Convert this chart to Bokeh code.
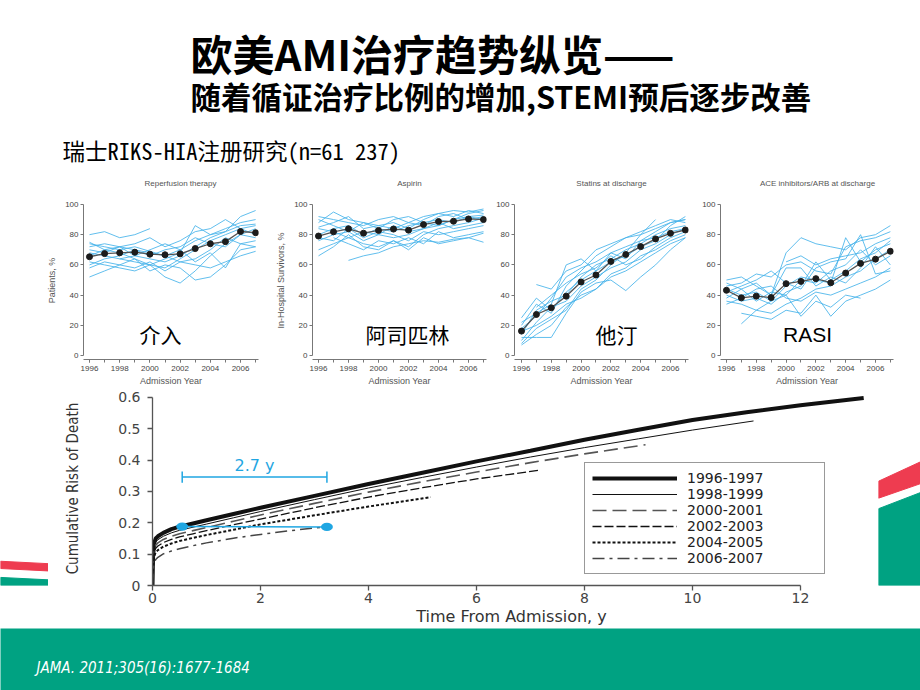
import math
from bokeh.plotting import figure
from bokeh.layouts import column, row
from bokeh.models import Range1d, FixedTicker, NumeralTickFormatter, Legend, LegendItem
from bokeh.core.properties import value
from bokeh.embed import file_html
from bokeh.resources import INLINE

nan = float("nan")

# ---------------- data ----------------
years = [1996, 1997, 1998, 1999, 2000, 2001, 2002, 2003, 2004, 2005, 2006, 2007]
year_ticks = [1996, 1998, 2000, 2002, 2004, 2006]
pct_ticks = [0, 20, 40, 60, 80, 100]
panel_titles = ["Reperfusion therapy", "Aspirin", "Statins at discharge", "ACE inhibitors/ARB at discharge"]

reperf_mean = [65.4, 67.5, 68.0, 68.4, 67.1, 66.7, 67.3, 70.8, 74.0, 75.4, 82.1, 81.3]
aspirin_mean = [79.1, 81.9, 83.9, 81.0, 82.8, 83.7, 83.0, 86.7, 88.7, 88.9, 90.4, 90.0]
statin_mean = [16.2, 27.2, 31.6, 39.3, 48.7, 53.3, 62.3, 66.9, 72.1, 77.2, 80.9, 83.1]
acei_mean = [43.2, 38.2, 39.3, 38.4, 47.6, 49.1, 50.9, 48.2, 54.6, 61.0, 63.8, 69.0]

reperf_hosp = [
    [80, 82, 78, 80, 84, nan, nan, nan, nan, nan, nan, nan],
    [74, 72, 70, 72, 69, 66, 70, 76, 80, 84, 88, 90],
    [70, 68, 72, 66, 64, 62, 66, 72, 78, 82, 86, 87],
    [68, 66, 64, 62, 60, 58, 64, 70, 76, 80, 84, 86],
    [62, 60, 58, 56, 60, 52, 48, 56, 66, 74, 80, 84],
    [58, 62, 60, 64, 56, 60, 58, 50, 52, 60, 70, 72],
    [52, 56, 60, 58, 62, 56, 62, 60, 58, 62, 66, 69],
    [72, 74, 72, 70, 66, 70, 72, 78, 74, 72, 80, 78],
    [66, 70, 68, 64, 60, 64, 68, 86, 80, 82, 92, 96],
    [60, 64, 66, 70, 68, 66, 62, 64, 70, 78, 74, 76],
    [75, 70, 72, 74, 78, 72, 76, 82, 84, 90, 84, 80],
    [nan, nan, 64, 66, 70, 74, 70, 62, 68, 58, 74, 72],
]
aspirin_hosp = [
    [92, 90, 88, 86, 90, 92, 88, 92, 94, 96, 95, 97],
    [85, 88, 92, 84, 86, 88, 84, 90, 94, 92, 96, 94],
    [80, 84, 86, 80, 84, 82, 86, 88, 90, 88, 92, 93],
    [76, 80, 82, 76, 80, 78, 80, 84, 86, 90, 92, 90],
    [70, 74, 78, 74, 72, 76, 72, 80, 84, 86, 88, 91],
    [66, 72, 80, 72, 70, 76, 70, 78, 74, 76, 78, 75],
    [nan, nan, 63, 66, 68, 72, 74, 76, 75, 77, 78, 81],
    [84, 82, 78, 82, 80, 86, 82, 84, 88, 84, 86, 88],
    [88, 95, 90, 88, 86, 84, 88, 86, 92, 94, 90, 92],
    [78, 76, 84, 78, 82, 80, 76, 82, 80, 82, 84, 86],
    [90, 86, 82, 88, 84, 90, 92, 88, 86, 90, 94, 96],
    [nan, 78, 74, 70, 76, 74, 78, 74, 82, 78, 80, 82],
]
statin_hosp = [
    [25, 38, 30, 42, 50, 56, 68, 64, 76, 82, 88, 90],
    [20, 34, 28, 46, 56, 66, 72, 78, 82, 86, 90, 88],
    [14, 30, 36, 40, 52, 60, 64, 70, 74, 80, 84, 86],
    [10, 22, 32, 36, 46, 52, 58, 62, 70, 74, 80, 84],
    [7, 14, 20, 32, 40, 44, 54, 58, 66, 70, 76, 80],
    [12, 12, 12, 28, 42, 48, 50, 43, 52, 60, 70, 78],
    [18, 26, 38, 52, 58, 62, 68, 72, 76, 78, 82, 84],
    [nan, 47, 44, 56, 60, 70, 74, 78, 80, 90, nan, nan],
    [16, 20, 26, 34, 38, 44, 52, 56, 62, 68, 74, 78],
    [22, 28, 34, 60, 64, 56, 62, 66, 72, 76, 86, 92],
    [8, 18, 24, 30, 44, 50, 60, 68, 80, 84, 88, 90],
    [nan, 32, 40, 48, 54, 58, 66, 60, 64, 72, 78, 82],
]
acei_hosp = [
    [50, 52, 46, 40, 68, 78, 74, 72, 70, 78, 80, 86],
    [46, 48, 54, 52, 60, 62, 56, 54, 72, 76, 78, 82],
    [44, 40, 42, 36, 46, 52, 50, 48, 78, 62, 70, 74],
    [40, 36, 38, 34, 42, 46, 62, 50, 56, 64, 68, 76],
    [38, 44, 36, 42, 40, 50, 48, 56, 60, 70, 60, 66],
    [36, 34, 30, 28, 34, 38, 44, 46, 52, 56, 64, 70],
    [nan, 28, 26, 24, 30, 28, 40, 26, 36, 40, 44, 50],
    [nan, 21, 30, 36, 40, 26, 36, 32, 40, 38, nan, nan],
    [42, 46, 50, 56, 48, 44, 58, 62, 64, 80, 54, 56],
    [48, 44, 48, 40, 58, 58, 46, 52, 48, 58, 72, 60],
    [nan, nan, nan, nan, 62, 66, 60, 64, 66, 68, 74, 78],
    [34, 38, 44, 46, 38, 36, 42, 40, 44, 48, 52, 58],
]

# cumulative risk of death curves
t_9697 = [0, 0.01, 0.03, 0.06, 0.1, 0.2, 0.35, 0.5, 0.75, 1, 1.5, 2, 3, 4, 5, 6, 7, 8, 9, 10, 11, 12, 13.17]
r_9697 = [0, 0.09, 0.135, 0.15, 0.157, 0.168, 0.18, 0.188, 0.198, 0.208, 0.228, 0.248, 0.286, 0.324, 0.36, 0.396, 0.43, 0.465, 0.497, 0.528, 0.553, 0.575, 0.598]
t_9899 = [0, 0.01, 0.03, 0.06, 0.1, 0.2, 0.35, 0.5, 0.75, 1, 1.5, 2, 3, 4, 5, 6, 7, 8, 9, 10, 11.13]
r_9899 = [0, 0.08, 0.125, 0.139, 0.146, 0.157, 0.168, 0.176, 0.186, 0.196, 0.216, 0.236, 0.274, 0.311, 0.345, 0.378, 0.41, 0.44, 0.468, 0.496, 0.525]
t_0001 = [0, 0.01, 0.03, 0.06, 0.1, 0.2, 0.35, 0.5, 0.75, 1, 1.5, 2, 3, 4, 5, 6, 7, 8, 9.13]
r_0001 = [0, 0.07, 0.115, 0.129, 0.136, 0.147, 0.157, 0.165, 0.175, 0.185, 0.205, 0.225, 0.262, 0.298, 0.331, 0.362, 0.392, 0.42, 0.449]
t_0203 = [0, 0.01, 0.03, 0.06, 0.1, 0.2, 0.35, 0.5, 0.75, 1, 1.5, 2, 3, 4, 5, 6, 7.18]
r_0203 = [0, 0.065, 0.105, 0.119, 0.126, 0.137, 0.147, 0.155, 0.165, 0.175, 0.194, 0.212, 0.248, 0.282, 0.312, 0.34, 0.368]
t_0405 = [0, 0.01, 0.03, 0.06, 0.1, 0.2, 0.35, 0.5, 0.75, 1, 1.5, 2, 3, 4, 5.15]
r_0405 = [0, 0.055, 0.093, 0.106, 0.113, 0.124, 0.134, 0.142, 0.152, 0.161, 0.178, 0.195, 0.224, 0.252, 0.282]
t_0607 = [0, 0.01, 0.03, 0.06, 0.1, 0.2, 0.35, 0.5, 0.75, 1, 1.5, 2, 2.5, 3.2]
r_0607 = [0, 0.04, 0.07, 0.083, 0.09, 0.101, 0.11, 0.117, 0.127, 0.136, 0.151, 0.163, 0.174, 0.187]
period_labels = ["1996-1997", "1998-1999", "2000-2001", "2002-2003", "2004-2005", "2006-2007"]
risk_x_ticks = [0, 2, 4, 6, 8, 10, 12]
risk_y_ticks = [0, 0.1, 0.2, 0.3, 0.4, 0.5, 0.6]

# 2.7-year gap annotation
gap_start = 0.55
gap_end = 3.23
gap_risk = [0.188, 0.187]
bracket_risk = 0.346
gap_label = "2.7 y"

# ---------------- styles ----------------
TEAL = "#00a282"
RED = "#ee3c50"
BLUE = "#45b3ea"
ANNO_BLUE = "#1fa6e2"
CJK = "Noto Sans CJK SC"
SANS = "Liberation Sans"
WIDE = "DejaVu Sans"
NARROW = "'DejaVu Sans Condensed', 'Liberation Sans', sans-serif"


def blank(w, h, x0, x1, y0, y1, bg="white"):
    p = figure(width=w, height=h, x_range=Range1d(x0, x1), y_range=Range1d(y0, y1),
               x_axis_location=None, y_axis_location=None, toolbar_location=None,
               output_backend="svg", min_border=0, outline_line_color=None,
               background_fill_color=bg, border_fill_color=bg)
    p.grid.grid_line_color = None
    p.grid.visible = False
    return p


# ---------------- header (slide titles + panel titles) ----------------
header = blank(920, 188, 0, 920, 188, 0)
header.text(x=[190], y=[52], text=["欧美AMI治疗趋势纵览——"], text_font=value(CJK),
            text_font_style="bold", text_font_size="42px", text_baseline="middle",
            text_align="left", text_color="black")
header.text(x=[190], y=[95], text=["随着循证治疗比例的增加,STEMI预后逐步改善"], text_font=value(CJK),
            text_font_style="bold", text_font_size="30.5px", text_baseline="middle",
            text_align="left", text_color="black")
header.text(x=[62], y=[149], text=["瑞士RIKS-HIA注册研究(n=61 237)"],
            text_font=value("Noto Sans Mono CJK SC"), text_font_size="22.5px",
            text_baseline="middle", text_align="left", text_color="black")
header.text(x=[180, 409, 611, 817], y=[183] * 4, text=panel_titles, text_font=value(SANS),
            text_font_size="8px", text_color="#555555", text_align="center", text_baseline="middle")


# ---------------- small charts ----------------
def small_chart(ylabel, hosp, mean, w, left, right, x0, x1, label, lx, ly, lfont):
    p = figure(width=w, height=200, x_range=Range1d(x0, x1), y_range=Range1d(-2.6, 101.96),
               toolbar_location=None, output_backend="svg",
               min_border_left=left, min_border_right=right, min_border_top=13,
               min_border_bottom=27, outline_line_color=None)
    p.grid.grid_line_color = None
    p.multi_line(xs=[years] * len(hosp), ys=hosp, line_color=BLUE, line_width=1, line_alpha=0.85)
    p.line(years, mean, line_color="#555555", line_width=1.3)
    p.scatter(years, mean, size=6, color="#1c1c1c")
    p.text(x=[lx], y=[ly], text=[label], text_font=value(lfont), text_font_size="21px",
           text_align="center", text_baseline="middle", text_color="black")
    for ax in (p.xaxis, p.yaxis):
        ax.axis_line_color = "#777777"
        ax.major_tick_line_color = "#777777"
        ax.minor_tick_line_color = "#777777"
        ax.major_tick_in = 0
        ax.major_tick_out = 3
        ax.minor_tick_in = 0
        ax.major_label_text_font = SANS
        ax.major_label_text_font_size = "8px"
        ax.major_label_text_color = "#444444"
        ax.major_label_standoff = 2
        ax.axis_label_text_font = SANS
        ax.axis_label_text_font_size = "9px"
        ax.axis_label_text_font_style = "normal"
        ax.axis_label_text_color = "#555555"
    p.xaxis.ticker = FixedTicker(ticks=year_ticks, minor_ticks=years)
    p.xaxis.minor_tick_out = 3
    p.xaxis.axis_label = "Admission Year"
    p.xaxis.axis_label_standoff = 2
    p.xaxis.major_label_standoff = 3
    p.yaxis.ticker = FixedTicker(ticks=pct_ticks)
    p.yaxis.minor_tick_out = 0
    p.yaxis.bounds = (0, 100)
    p.yaxis.axis_label = ylabel
    p.yaxis.axis_label_standoff = 5
    return p


c1 = small_chart("Patients, %", reperf_hosp, reperf_mean,
                 265, 83, 7, 1995.603, 2007.19, "介入", 2000.7, 14.4, CJK)
c2 = small_chart("In-Hospital Survivors, %", aspirin_hosp, aspirin_mean,
                 223, 47, 2, 1995.6, 2007.2, "阿司匹林", 2001.93, 14.4, CJK)
c3 = small_chart("", statin_hosp, statin_mean,
                 208, 26, 8, 1995.53, 2007.21, "他汀", 2002.38, 14.0, CJK)
c4 = small_chart("", acei_hosp, acei_mean,
                 224, 24, 27, 1995.6, 2007.21, "RASI", 2001.44, 14.0, SANS)

# ---------------- big chart ----------------
big = figure(width=830, height=240, x_range=Range1d(0, 718 / 54), y_range=Range1d(0, 0.619),
             toolbar_location=None, output_backend="svg",
             min_border_left=104, min_border_right=8, min_border_top=3, min_border_bottom=40,
             outline_line_color=None)
big.grid.grid_line_color = None
styles = [
    dict(line_color="#111111", line_width=4.0, line_dash="solid"),
    dict(line_color="#111111", line_width=1.0, line_dash="solid"),
    dict(line_color="#555555", line_width=1.6, line_dash="14 6"),
    dict(line_color="#111111", line_width=1.3, line_dash="9 3"),
    dict(line_color="#111111", line_width=2.0, line_dash="3 2"),
    dict(line_color="#444444", line_width=1.5, line_dash="12 5 3 5"),
]
curves = [(t_9697, r_9697), (t_9899, r_9899), (t_0001, r_0001),
          (t_0203, r_0203), (t_0405, r_0405), (t_0607, r_0607)]
renderers = []
for (tt, rr), st in zip(curves, styles):
    renderers.append(big.line(tt, rr, **st))

# annotation
big.line([gap_start, gap_end], gap_risk, line_color=ANNO_BLUE, line_width=1.5)
big.ellipse(x=[gap_start, gap_end], y=gap_risk, width=0.22, height=0.026,
            fill_color=ANNO_BLUE, line_color=None)
big.line([gap_start, gap_end], [bracket_risk, bracket_risk], line_color=ANNO_BLUE, line_width=1.5)
big.segment(x0=[gap_start, gap_end], y0=[bracket_risk - 0.018] * 2,
            x1=[gap_start, gap_end], y1=[bracket_risk + 0.018] * 2,
            line_color=ANNO_BLUE, line_width=1.5)
big.text(x=[(gap_start + gap_end) / 2], y=[bracket_risk + 0.038], text=[gap_label],
         text_font=value(WIDE), text_font_size="16px", text_color=ANNO_BLUE,
         text_align="center", text_baseline="middle")

legend = Legend(items=[LegendItem(label=lab, renderers=[r]) for lab, r in zip(period_labels, renderers)],
                location=(432, 11), border_line_color="#333333", border_line_width=1.2,
                background_fill_color="white", background_fill_alpha=1.0,
                label_text_font=WIDE, label_text_font_size="14px", label_text_color="#222222",
                glyph_width=85, glyph_height=16, label_height=16, spacing=0, padding=7,
                margin=0, label_standoff=10, label_width=130)
big.add_layout(legend)

for ax in (big.xaxis, big.yaxis):
    ax.axis_line_color = "#555555"
    ax.axis_line_width = 1.3
    ax.major_tick_line_color = "#555555"
    ax.major_tick_line_width = 1.3
    ax.major_tick_in = 0
    ax.major_tick_out = 5
    ax.minor_tick_line_color = None
    ax.major_label_text_font = WIDE
    ax.major_label_text_font_size = "14px"
    ax.major_label_text_color = "#444444"
    ax.axis_label_text_font_style = "normal"
    ax.axis_label_text_color = "#333333"
big.xaxis.ticker = FixedTicker(ticks=risk_x_ticks)
big.xaxis.bounds = (0, 12)
big.xaxis.major_label_standoff = 2
big.xaxis.axis_label = "Time From Admission, y"
big.xaxis.axis_label_text_font = WIDE
big.xaxis.axis_label_text_font_size = "16px"
big.xaxis.axis_label_standoff = 1
big.yaxis.ticker = FixedTicker(ticks=risk_y_ticks)
big.yaxis.formatter = NumeralTickFormatter(format="0.[0]")
big.yaxis.bounds = (0, 0.6)
big.yaxis.major_label_standoff = 7
big.yaxis.axis_label = "Cumulative Risk of Death"
big.yaxis.axis_label_text_font = NARROW
big.yaxis.axis_label_text_font_size = "15px"
big.yaxis.axis_label_standoff = 33

# ---------------- decorative strips ----------------
left_strip = blank(48, 240, 0, 48, 628, 388)
left_strip.patch([0, 48, 48, 0], [598, 601, 610, 607], color=RED)
left_strip.patch([0, 48, 48, 0], [618, 621, 628, 628], color=TEAL)

right_strip = blank(42, 240, 878, 920, 628, 388)
right_strip.patch([878, 920, 920, 878], [499, 475, 502, 520], color=RED)
right_strip.patch([878, 920, 920, 878], [533, 513, 628, 628], color=TEAL)

footer = blank(920, 62, 0, 920, 62, 0, bg=TEAL)
footer.text(x=[36], y=[39], text=["JAMA. 2011;305(16):1677-1684"], text_font=value(NARROW),
            text_font_style="italic", text_font_size="15px", text_color="white",
            text_align="left", text_baseline="middle")

layout = column(header, row(c1, c2, c3, c4), row(left_strip, big, right_strip), footer)

open("out.html", "w").write(file_html(layout, INLINE))
